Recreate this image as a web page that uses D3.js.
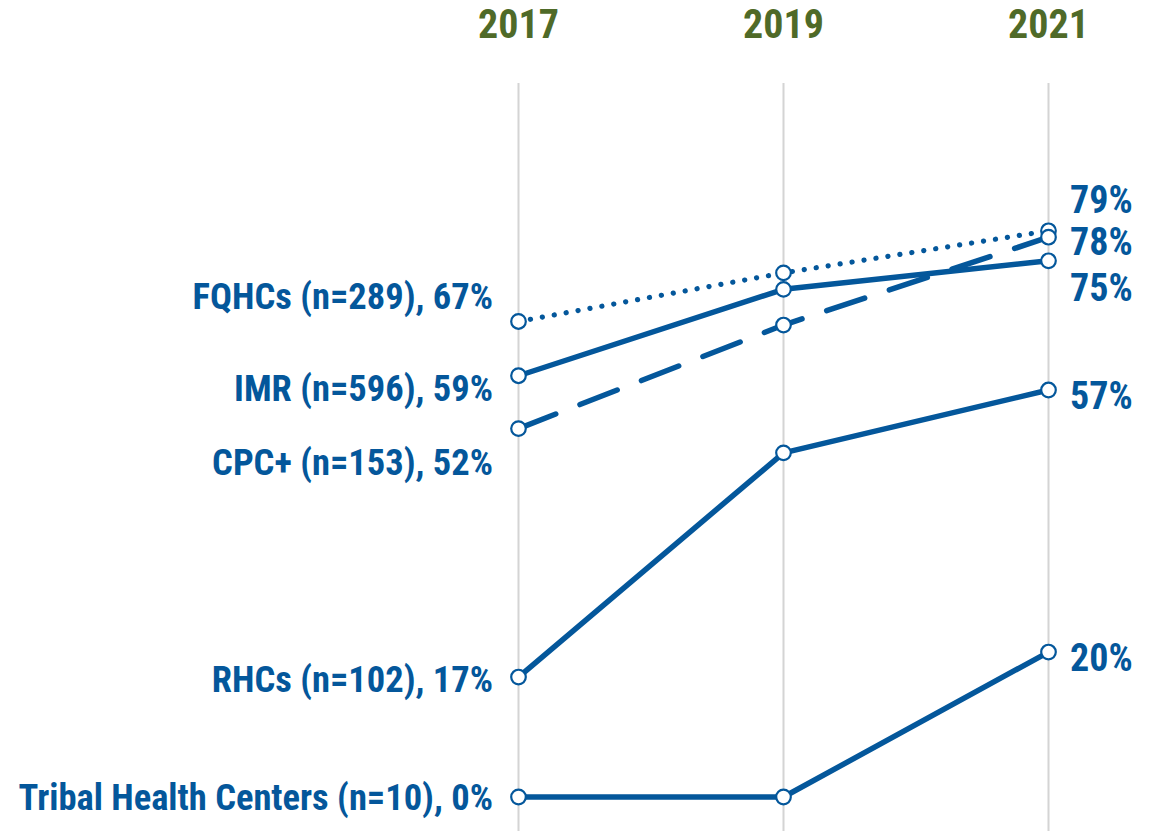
<!DOCTYPE html>
<html>
<head>
<meta charset="utf-8">
<script src="https://cdn.jsdelivr.net/npm/d3@7"></script>
<style>
  body { margin: 0; background: #fff; }
  svg { display: block; font-family: "Liberation Sans Narrow", "Roboto Condensed", "Liberation Sans", sans-serif; font-weight: bold; }
</style>
</head>
<body>
<svg id="chart"></svg>
<script>
// years on the x axis
const years = ['2017', '2019', '2021'];

// series (percent)
const names = ['FQHCs', 'IMR', 'CPC+', 'RHCs', 'Tribal Health Centers'];
const sampleSizes = [289, 596, 153, 102, 10];
const fqhcs  = [66.6, 73.4, 79.3];
const imr    = [59.0, 71.1, 75.1];
const cpc    = [51.6, 66.1, 78.4];
const rhcs   = [16.8, 48.2, 57.0];
const tribal = [0, 0, 20.3];
const values = [fqhcs, imr, cpc, rhcs, tribal];

// line style per series
const lineStyles = ['dotted', 'solid', 'dashed', 'solid', 'solid'];

// label nudges (px) so the text labels don't collide
const leftNudge  = [-26, 12, 33, 2, 0];
const rightNudge = [-31, 27, 4, 5, 5];

const w = 1163, h = 831;
const blue = '#04579b';
const olive = '#4f6a28';

const svg = d3.select('#chart').attr('width', w).attr('height', h);

const x = d3.scalePoint()
    .domain(years)
    .range([518.5, 1048.5]);

const y = d3.scaleLinear()
    .domain([0, 100])
    .range([797, 83]);

// vertical gridlines
svg.append('g').selectAll('line').data(years).enter().append('line')
    .attr('x1', d => x(d)).attr('x2', d => x(d))
    .attr('y1', y(100)).attr('y2', h)
    .attr('stroke', '#d4d4d4')
    .attr('stroke-width', 2);

// year labels on top
svg.append('g').selectAll('text').data(years).enter().append('text')
    .attr('x', d => x(d))
    .attr('y', 38)
    .attr('text-anchor', 'middle')
    .attr('fill', olive)
    .style('font-size', '40px')
    .text(d => d);

const line = d3.line()
    .x((d, i) => x(years[i]))
    .y(d => y(d));

const dashes = { solid: null, dashed: '40,26', dotted: '0.1,12' };

// lines
svg.append('g').selectAll('path').data(values).enter().append('path')
    .attr('d', d => line(d))
    .attr('fill', 'none')
    .attr('stroke', blue)
    .attr('stroke-width', (d, i) => lineStyles[i] === 'dotted' ? 5.2 : 5.5)
    .attr('stroke-linecap', 'round')
    .attr('stroke-linejoin', 'round')
    .attr('stroke-dasharray', (d, i) => dashes[lineStyles[i]]);

// markers
const markerOrder = [4, 3, 1, 0, 2];
markerOrder.forEach(k => {
    svg.append('g').selectAll('circle').data(values[k]).enter().append('circle')
        .attr('cx', (d, i) => x(years[i]))
        .attr('cy', d => y(d))
        .attr('r', 7.3)
        .attr('fill', '#fff')
        .attr('stroke', blue)
        .attr('stroke-width', 2.2);
});

const fmt = d3.format('.0f');

// left labels: name, sample size and the 2017 value
svg.append('g').selectAll('text').data(names).enter().append('text')
    .attr('x', 493)
    .attr('y', (d, i) => y(values[i][0]) + leftNudge[i])
    .attr('dy', '0.36em')
    .attr('text-anchor', 'end')
    .attr('fill', blue)
    .style('font-size', '36.5px')
    .text((d, i) => `${d} (n=${sampleSizes[i]}), ${fmt(values[i][0])}%`);

// right labels: 2021 value
svg.append('g').selectAll('text').data(names).enter().append('text')
    .attr('x', 1070)
    .attr('y', (d, i) => y(values[i][2]) + rightNudge[i])
    .attr('dy', '0.36em')
    .attr('fill', blue)
    .style('font-size', '38px')
    .text((d, i) => `${fmt(values[i][2])}%`);
</script>
</body>
</html>
